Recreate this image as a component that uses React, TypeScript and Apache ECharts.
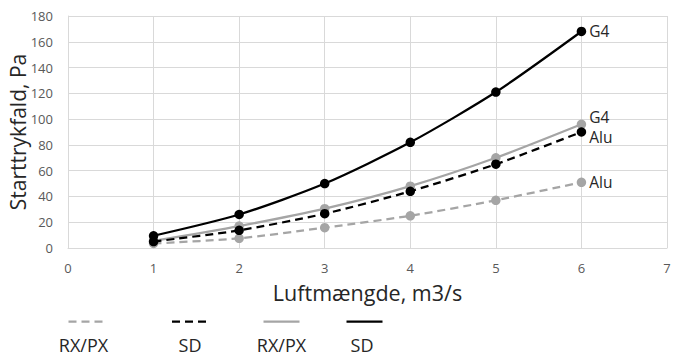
import React, { useEffect, useRef } from "react";
import * as echarts from "echarts";

const xValues = [1, 2, 3, 4, 5, 6];
const sdG4 = [9.5, 26, 50, 82, 121, 168];
const rxG4 = [5.5, 17, 30.5, 48, 70, 96];
const sdAlu = [5, 13.7, 26.6, 44, 65, 90];
const rxAlu = [3.5, 7.5, 15.8, 25, 37, 51];
const xTicks = [0, 1, 2, 3, 4, 5, 6, 7];
const yTicks = [0, 20, 40, 60, 80, 100, 120, 140, 160, 180];
const legendNames = ["RX/PX", "SD", "RX/PX", "SD"];
const endLabels = ["G4", "G4", "Alu", "Alu"];

const FONT = "'Open Sans', 'Noto Sans', sans-serif";
const BLACK = "#000000";
const GRAY = "#a5a5a5";

export default function App() {
  const ref = useRef<HTMLDivElement>(null);
  useEffect(() => {
    if (!ref.current) return;
    const chart = echarts.init(ref.current, undefined, { renderer: "svg" });

    const mk = (
      name: string,
      vals: number[],
      color: string,
      dashed: boolean,
      label: string,
      labelOffsetY: number,
      z: number
    ) => ({
      name,
      type: "line",
      smooth: 0.25,
      z,
      symbol: "circle",
      symbolSize: 9.5,
      lineStyle: {
        color,
        width: 2.25,
        type: dashed ? [8, 5] : "solid",
      },
      itemStyle: { color },
      data: vals.map((v, i) =>
        i === vals.length - 1
          ? {
              value: [xValues[i], v],
              label: {
                show: true,
                position: "right",
                distance: 3,
                offset: [0, labelOffsetY],
                formatter: label,
                color: "#262626",
                fontSize: 15.5,
                lineHeight: 15,
                fontFamily: FONT,
              },
            }
          : [xValues[i], v]
      ),
    });

    const legendCenters = [86.5, 190, 281.5, 364.5];
    const legendStyles = [
      { color: GRAY, dash: [8, 5] },
      { color: BLACK, dash: [8, 5] },
      { color: GRAY, dash: null },
      { color: BLACK, dash: null },
    ];
    const textCenters = [83.5, 190, 281.5, 362];
    const graphics: any[] = [];
    legendNames.forEach((n, i) => {
      const c = legendCenters[i];
      const st = legendStyles[i];
      graphics.push({
        type: "line",
        shape: { x1: c - 18, y1: 321.5, x2: c + 18, y2: 321.5 },
        style: {
          stroke: st.color,
          lineWidth: 2.25,
          lineDash: st.dash || undefined,
        },
      });
      graphics.push({
        type: "text",
        x: textCenters[i],
        y: 344.5,
        style: {
          text: n,
          fill: "#262626",
          font: `18px ${FONT}`,
          lineHeight: 18,
          textAlign: "center",
          textVerticalAlign: "middle",
        },
      });
    });

    chart.setOption({
      animation: false,
      backgroundColor: "#ffffff",
      grid: {
        left: 68,
        right: 9,
        top: 16,
        bottom: 108,
        containLabel: false,
        outerBoundsMode: "none",
      },
      xAxis: {
        type: "value",
        min: xTicks[0],
        max: xTicks[xTicks.length - 1],
        interval: 1,
        name: "Luftmængde, m3/s",
        nameLocation: "middle",
        nameGap: 33,
        nameMoveOverlap: false,
        nameTextStyle: { color: "#262626", fontSize: 21.5, fontFamily: FONT },
        axisLine: { show: true, lineStyle: { color: "#d9d9d9", width: 1 } },
        axisTick: { show: false },
        axisLabel: { color: "#595959", fontSize: 13, fontFamily: FONT, margin: 13 },
        splitLine: { show: true, lineStyle: { color: "#d9d9d9", width: 1 } },
      },
      yAxis: {
        type: "value",
        min: yTicks[0],
        max: yTicks[yTicks.length - 1],
        interval: 20,
        name: "Starttrykfald, Pa",
        nameLocation: "middle",
        nameGap: 40,
        nameMoveOverlap: false,
        nameTextStyle: { color: "#262626", fontSize: 21, fontFamily: FONT },
        axisLine: { show: true, lineStyle: { color: "#d9d9d9", width: 1 } },
        axisTick: { show: false },
        axisLabel: { color: "#595959", fontSize: 13, fontFamily: FONT, margin: 15 },
        splitLine: { show: true, lineStyle: { color: "#d9d9d9", width: 1 } },
      },
      series: [
        mk("RX/PX Alu", rxAlu, GRAY, true, endLabels[3], 0, 2),
        mk("SD Alu", sdAlu, BLACK, true, endLabels[2], 5, 3),
        mk("RX/PX G4", rxG4, GRAY, false, endLabels[1], -7, 2),
        mk("SD G4", sdG4, BLACK, false, endLabels[0], 0, 4),
      ],
      graphic: graphics,
    });
    return () => chart.dispose();
  }, []);
  return (
    <div
      ref={ref}
      style={{ position: "fixed", left: 0, top: 0, width: 676, height: 356 }}
    />
  );
}
